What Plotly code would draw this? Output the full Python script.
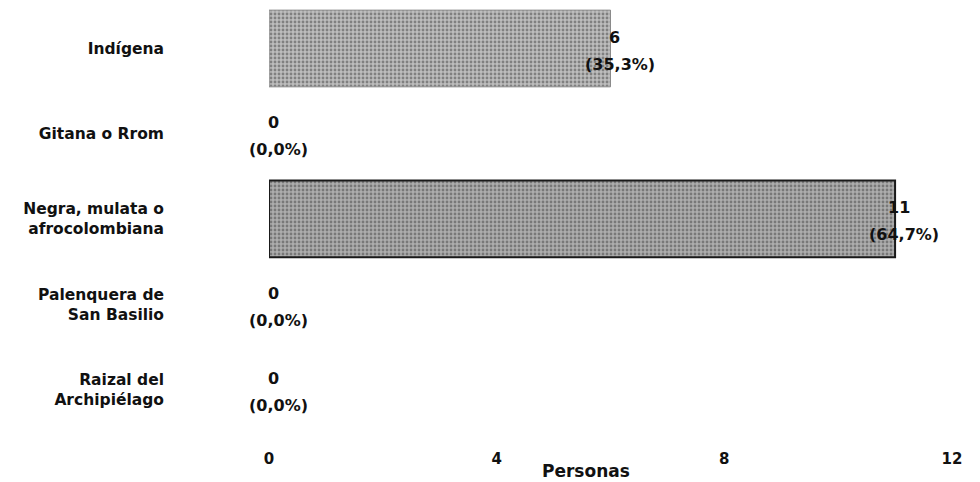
import plotly.graph_objects as go

categories = ["Indígena", "Gitana o Rrom", "Negra, mulata o<br>afrocolombiana",
              "Palenquera de<br>San Basilio", "Raizal del<br>Archipiélago"]
values = [6, 0, 11, 0, 0]
percents = ["(35,3%)", "(0,0%)", "(64,7%)", "(0,0%)", "(0,0%)"]
x_ticks = [0, 4, 8, 12]
x_title = "Personas"

bar_bg = ["#bdbdbd", "#bdbdbd", "#adadad", "#bdbdbd", "#bdbdbd"]
bar_fg = ["#6a6a6a", "#6a6a6a", "#555555", "#6a6a6a", "#6a6a6a"]
line_colors = ["#8a8a8a", "#8a8a8a", "#1a1a1a", "#8a8a8a", "#8a8a8a"]
line_widths = [1 if v > 0 else 0 for v in values]
line_widths[2] = 2

fig = go.Figure(go.Bar(
    y=categories, x=values, orientation="h", width=0.9,
    marker=dict(color=bar_bg, line=dict(color=line_colors, width=line_widths),
                pattern=dict(shape=".", fgcolor=bar_fg, bgcolor=bar_bg,
                             size=4, solidity=0.4)),
    hoverinfo="skip",
))

font_b = dict(family="DejaVu Sans", size=16, color="#111111", weight="bold")
for c, v, p in zip(categories, values, percents):
    fig.add_annotation(x=v, y=c, text=str(v), showarrow=False, xanchor="center",
                       xshift=4, yshift=11, font=font_b)
    fig.add_annotation(x=v, y=c, text=p, showarrow=False, xanchor="center",
                       xshift=9, yshift=-16, font=font_b)

fig.add_annotation(xref="paper", yref="paper", x=0.464, y=0, yshift=-39,
                   yanchor="middle", text=x_title, showarrow=False,
                   font=dict(family="DejaVu Sans", size=17, color="#111111", weight="bold"))

fig.update_layout(
    width=980, height=482,
    margin=dict(l=261, r=36, t=0, b=58),
    plot_bgcolor="white", paper_bgcolor="white",
    showlegend=False,
    xaxis=dict(range=[0, 12], tickvals=x_ticks, ticktext=[str(t) for t in x_ticks],
               showgrid=False, zeroline=False, showline=False,
               ticks="outside", ticklen=13, tickcolor="white",
               tickfont=dict(family="DejaVu Sans", size=15, color="#111111", weight="bold")),
    yaxis=dict(categoryorder="array", categoryarray=categories,
               range=[4.5, -0.475], showgrid=False, zeroline=False, showline=False,
               ticks="", ticklabelstandoff=104,
               tickfont=dict(family="DejaVu Sans", size=15.5, color="#111111", weight="bold")),
)

fig.write_html("out.html")
